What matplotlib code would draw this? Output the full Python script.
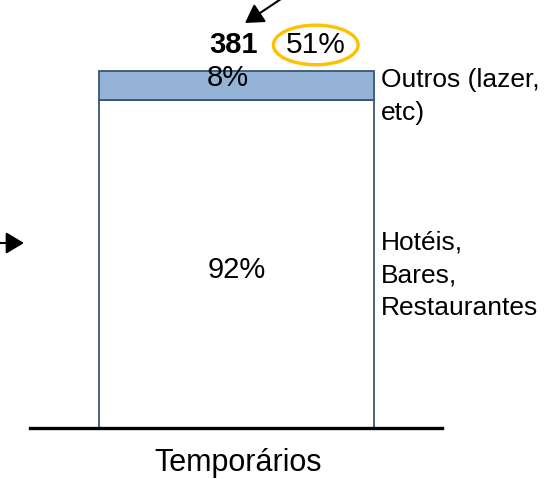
import matplotlib
matplotlib.use("Agg")
import matplotlib.pyplot as plt

plt.rcParams['font.family'] = ['Liberation Sans', 'DejaVu Sans']

# ---- data ----
categories = ["Temporários"]
segment_labels = ["Hotéis,\nBares,\nRestaurantes", "Outros (lazer,\netc)"]
segment_values = [92, 8]           # percent of the column
segment_text = ["92%", "8%"]
total_value = "381"
total_share = "51%"

# ---- style ----
fills = ["white", "#95B3D7"]
edge = "#3B5476"
pct_offsets = [(0, -10), (-6, -0.3)]       # points, for the % labels
label_offsets = [(5, 24), (5, 12.6)]       # points, for right-side labels (va=top, from mid)

fig = plt.figure(figsize=(5.59, 4.79), dpi=100)
ax = fig.add_axes([0, 0, 1, 1])
ax.set_xlim(-0.86, 1.1727)
ax.set_ylim(-14.286, 119.888)
ax.axis("off")

x = list(range(len(categories)))
bottom = 0
for val, fc, lab, txt, po, lo in zip(segment_values, fills, segment_labels,
                                     segment_text, pct_offsets, label_offsets):
    ax.bar(x, [val], width=1.0, bottom=bottom, color=fc, edgecolor=edge,
           linewidth=1.3, zorder=2)
    mid = bottom + val / 2
    ax.annotate(txt, (x[0], mid), xytext=po, textcoords="offset points",
                ha="center", va="baseline", fontsize=21, zorder=3)
    ax.annotate(lab, (x[0] + 0.5, mid), xytext=lo, textcoords="offset points",
                ha="left", va="top", fontsize=19, linespacing=1.46, zorder=3)
    bottom += val

# baseline
ax.axhline(0, xmin=30 / 559, xmax=442 / 559, color="black", lw=2.4, zorder=4)

# category label
ax.annotate(categories[0], (x[0], 0), xytext=(1.5, -31), textcoords="offset points",
            ha="center", va="baseline", fontsize=22)

# total labels
ax.annotate(total_value, (x[0], bottom), xytext=(15.5, 13), textcoords="offset points",
            ha="right", va="baseline", fontsize=21, fontweight="bold")
ax.annotate(total_share, (x[0], bottom), xytext=(35.5, 13), textcoords="offset points",
            ha="left", va="baseline", fontsize=21.5,
            bbox=dict(boxstyle="ellipse,pad=0.0", fc="none", ec="#FFC000", lw=2.4))

# arrows
arrow_style = dict(arrowstyle="-|>,head_length=0.5,head_width=0.3", color="black",
                   lw=1.5, mutation_scale=22, shrinkA=0, shrinkB=0)
ax.annotate("", xy=(245, 479 - 23), xycoords="figure pixels",
            xytext=(290, 479 + 7), textcoords="figure pixels", arrowprops=arrow_style)
ax.annotate("", xy=(24, 479 - 243), xycoords="figure pixels",
            xytext=(-5, 479 - 243), textcoords="figure pixels", arrowprops=arrow_style)

fig.savefig("out.png", dpi=100)
